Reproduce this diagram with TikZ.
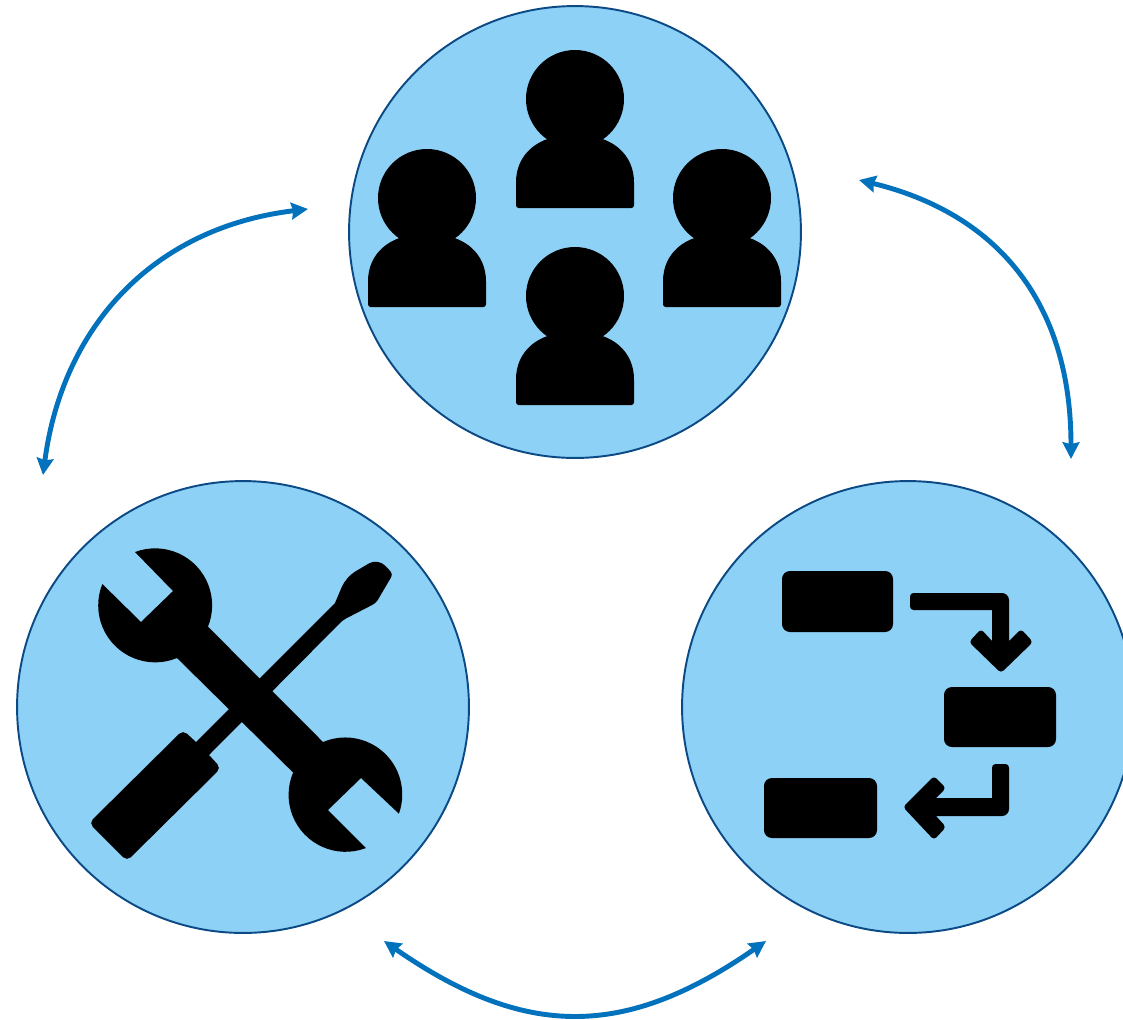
\documentclass[tikz,border=0pt]{standalone}
\usetikzlibrary{arrows.meta}
\definecolor{discfill}{HTML}{8DD1F6}
\definecolor{discline}{HTML}{0B4A85}
\definecolor{linkblue}{HTML}{0272BD}
\tikzset{
  disc/.style={circle, draw=discline, fill=discfill, line width=1.1pt, minimum size=9.04cm, inner sep=0, outer sep=0},
  link/.style={draw=linkblue, line width=2.8pt, {Stealth[length=9.5pt,width=9.5pt,inset=1pt]}-{Stealth[length=9.5pt,width=9.5pt,inset=1pt]}},
  icon/.style={fill=black, rounded corners=2pt},
  person/.pic={
    \fill (0,0) circle (49);
    \fill[rounded corners=1.5pt] (-59,109) -- (-59,86) .. controls (-59,56) and (-38,36) .. (0,36)
      .. controls (38,36) and (59,56) .. (59,86) -- (59,109) -- cycle;
  }
}
\begin{document}
\begin{tikzpicture}[x=0.02cm, y=-0.02cm]
\useasboundingbox (0,0) rectangle (1123,1019);

\node [disc] (people) at (575,232) {};
\node [disc] (tools) at (243,707) {};
\node [disc] (flow) at (908,707) {};

% people
\pic at (575,99) {person};
\pic at (427,198) {person};
\pic at (722,198) {person};
\pic at (575,296) {person};

% spanner and screwdriver
\fill [icon] (378,558) -- (393,574) -- (376,603) -- (343,620) [sharp corners] -- (209,755) [rounded corners=3pt] -- (221,768) -- (127,861)
  -- (89,823) -- (183,730) [sharp corners] -- (196,742) -- (335,603) [rounded corners=6pt] -- (346,577) -- cycle;
\fill (135,552) arc [start angle=110.7, end angle=-22, radius=1.14cm] -- (323,742)
  arc [start angle=113, end angle=-19.7, radius=1.14cm] -- (361,778) -- (328,810) -- (366,848)
  arc [start angle=-69, end angle=-203, radius=1.14cm] -- (177,658)
  arc [start angle=-67.5, end angle=-202, radius=1.14cm] -- (141,622) -- (173,591) -- cycle;

% flow chart
\fill [rounded corners=4.5pt] (782,571) rectangle (893,632);
\fill [rounded corners=4.5pt] (944,687) rectangle (1056,747);
\fill [rounded corners=4.5pt] (764,778) rectangle (877,838);
\fill [icon] (910,593) [rounded corners=4pt] -- (1009,593) [sharp corners] -- (1009,641) [rounded corners=2pt] -- (1021,629) -- (1033,642) -- (1001,673) -- (969,642)
  -- (981,629) [sharp corners] -- (992,641) -- (992,610) [rounded corners=2pt] -- (910,610) -- cycle;
\fill [icon] (1009,764) [rounded corners=4pt] -- (1009,816) [sharp corners] -- (936,816) [rounded corners=2pt] -- (946,827) -- (934,840) -- (903,807) -- (934,776)
  -- (946,788) [sharp corners] -- (936,798) -- (992,798) [rounded corners=2pt] -- (992,764) -- cycle;

% links
\coordinate (peopleL) at (308,209);
\coordinate (toolsT) at (43,475);
\coordinate (peopleR) at (859,180);
\coordinate (flowT) at (1071,459);
\coordinate (toolsB) at (384,941);
\coordinate (flowB) at (766,941);
\draw [link] (peopleL) .. controls (150,228) and (62,330) .. (toolsT);
\draw [link] (peopleR) .. controls (995,213) and (1071,300) .. (flowT);
\draw [link] (toolsB) .. controls (525,1039) and (625,1039) .. (flowB);

\end{tikzpicture}
\end{document}
